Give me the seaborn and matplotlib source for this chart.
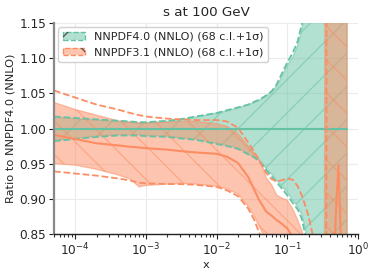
import matplotlib
matplotlib.use("Agg")
import matplotlib.pyplot as plt
import seaborn as sns
from matplotlib.patches import Patch
from matplotlib.ticker import LogLocator, NullFormatter

sns.set_theme(style="ticks")
plt.rcParams['font.family'] = ['DejaVu Sans']

# x grid
xgrid = [5e-5, 1e-4, 2e-4, 4e-4, 6e-4, 8e-4, 1e-3, 2e-3, 3e-3, 5e-3,
         1e-2, 1.4e-2, 2e-2, 2.8e-2, 3.4e-2, 4e-2, 4.5e-2, 5e-2, 6e-2, 7e-2,
         8e-2, 0.1, 0.12, 0.14, 0.16, 0.18, 0.2, 0.23, 0.27, 0.3,
         0.335, 0.345, 0.355, 0.365, 0.45, 0.5, 0.53, 0.56, 0.59, 0.62,
         0.66, 0.7]

# NNPDF4.0 (reference) ratio
nn40_cv = [1.0] * len(xgrid)
nn40_up68 = [1.016, 1.014, 1.012, 1.010, 1.009, 1.008, 1.008, 1.010, 1.012, 1.016,
             1.022, 1.025, 1.029, 1.034, 1.037, 1.040, 1.043, 1.046, 1.052, 1.060,
             1.070, 1.090, 1.102, 1.118, 1.140, 1.170, 1.25, 1.40, 1.60, 1.60,
             1.60, 1.60, 1.60, 1.60, 1.60, 1.60, 1.60, 1.60, 1.60, 1.60,
             1.60, 1.60]
nn40_dn68 = [0.983, 0.986, 0.989, 0.991, 0.991, 0.991, 0.990, 0.989, 0.987, 0.985,
             0.979, 0.976, 0.972, 0.964, 0.960, 0.955, 0.950, 0.943, 0.935, 0.927,
             0.920, 0.909, 0.898, 0.889, 0.878, 0.856, 0.82, 0.75, 0.60, 0.60,
             0.60, 0.60, 0.60, 0.60, 0.60, 0.60, 0.60, 0.60, 0.60, 0.60,
             0.60, 0.60]
nn40_upstd = [1.017, 1.015, 1.013, 1.011, 1.010, 1.009, 1.009, 1.011, 1.013, 1.017,
              1.022, 1.026, 1.030, 1.034, 1.038, 1.041, 1.044, 1.047, 1.053, 1.062,
              1.074, 1.094, 1.108, 1.124, 1.148, 1.18, 1.26, 1.42, 1.62, 1.62,
              1.62, 1.62, 1.62, 1.62, 1.62, 1.62, 1.62, 1.62, 1.62, 1.62,
              1.62, 1.62]
nn40_dnstd = [0.982, 0.985, 0.988, 0.990, 0.990, 0.990, 0.989, 0.988, 0.986, 0.984,
              0.978, 0.975, 0.971, 0.963, 0.959, 0.953, 0.948, 0.941, 0.932, 0.924,
              0.917, 0.905, 0.894, 0.885, 0.872, 0.848, 0.81, 0.74, 0.58, 0.58,
              0.58, 0.58, 0.58, 0.58, 0.58, 0.58, 0.58, 0.58, 0.58, 0.58,
              0.58, 0.58]

# NNPDF3.1 ratio to NNPDF4.0
nn31_cv = [0.991, 0.985, 0.979, 0.976, 0.974, 0.973, 0.972, 0.970, 0.968, 0.966,
           0.964, 0.960, 0.951, 0.931, 0.913, 0.898, 0.890, 0.882, 0.876, 0.870,
           0.866, 0.858, 0.845, 0.830, 0.810, 0.790, 0.780, 0.760, 0.740, 0.720,
           0.700, 0.700, 0.720, 0.750, 0.800, 0.905, 0.948, 0.875, 0.780, 0.700,
           0.650, 0.600]
nn31_up68 = [1.037, 1.027, 1.019, 1.011, 1.009, 1.008, 1.008, 1.009, 1.010, 1.010,
             1.007, 1.003, 0.993, 0.975, 0.965, 0.955, 0.945, 0.930, 0.920, 0.906,
             0.902, 0.898, 0.885, 0.870, 0.855, 0.840, 0.820, 0.790, 0.760, 0.720,
             0.700, 1.70, 1.70, 1.70, 1.70, 1.70, 1.70, 1.70, 1.70, 1.70,
             1.70, 1.70]
nn31_dn68 = [0.950, 0.948, 0.942, 0.934, 0.928, 0.917, 0.919, 0.921, 0.922, 0.921,
             0.918, 0.914, 0.907, 0.889, 0.875, 0.861, 0.850, 0.840, 0.820, 0.800,
             0.780, 0.760, 0.740, 0.720, 0.700, 0.680, 0.660, 0.640, 0.620, 0.600,
             0.580, 0.300, 0.300, 0.300, 0.300, 0.300, 0.300, 0.300, 0.300, 0.300,
             0.300, 0.300]
nn31_upstd = [1.054, 1.044, 1.034, 1.027, 1.022, 1.019, 1.017, 1.014, 1.013, 1.012,
              1.012, 1.010, 1.001, 0.980, 0.967, 0.955, 0.945, 0.937, 0.928, 0.925,
              0.926, 0.929, 0.927, 0.918, 0.905, 0.890, 0.875, 0.848, 0.800, 0.750,
              0.720, 0.700, 0.700, 1.80, 1.80, 1.80, 1.80, 1.80, 1.80, 1.80,
              1.80, 1.80]
nn31_dnstd = [0.939, 0.936, 0.933, 0.929, 0.926, 0.923, 0.922, 0.921, 0.921, 0.920,
              0.917, 0.912, 0.904, 0.886, 0.870, 0.852, 0.840, 0.830, 0.810, 0.790,
              0.770, 0.750, 0.730, 0.710, 0.690, 0.670, 0.650, 0.630, 0.610, 0.590,
              0.570, 0.550, 0.550, 0.200, 0.200, 0.200, 0.200, 0.200, 0.200, 0.200,
              0.200, 0.200]

pdfs = [
    ("NNPDF4.0 (NNLO)", "#66c2a5", "/", nn40_cv, nn40_up68, nn40_dn68, nn40_upstd, nn40_dnstd),
    ("NNPDF3.1 (NNLO)", "#fc8d62", "\\", nn31_cv, nn31_up68, nn31_dn68, nn31_upstd, nn31_dnstd),
]

fig = plt.figure(figsize=(3.74, 2.75), dpi=100)
ax = fig.add_axes([54 / 374, 1 - 234 / 275, 304 / 374, 211 / 275])

handles = []
labels = []
for label, color, hatch, cv, up68, dn68, upstd, dnstd in pdfs:
    sns.lineplot(x=xgrid, y=cv, ax=ax, color=color, lw=1.5, sort=False, estimator=None)
    ax.fill_between(xgrid, dn68, up68, color=color, alpha=0.5, zorder=1, lw=0)
    ax.fill_between(xgrid, dn68, up68, facecolor="none", alpha=0.5, edgecolor=color,
                    hatch=hatch, zorder=1, lw=1.0)
    sns.lineplot(x=xgrid, y=upstd, ax=ax, color=color, lw=1.3, linestyle="--", sort=False, estimator=None)
    sns.lineplot(x=xgrid, y=dnstd, ax=ax, color=color, lw=1.3, linestyle="--", sort=False, estimator=None)
    h = (Patch(facecolor=color, alpha=0.5, edgecolor="none"),
         Patch(facecolor="none", edgecolor=color, linestyle="--", lw=1.0),
         Patch(facecolor="none", edgecolor="0.35", hatch=hatch, lw=0))
    handles.append(h)
    labels.append(f"{label} (68 c.l.+1σ)")

ax.set_xscale("log")
ax.set_xlim(5e-5, 1.0)
ax.set_ylim(0.85, 1.15)
ax.set_yticks([0.85, 0.90, 0.95, 1.00, 1.05, 1.10, 1.15])
ax.xaxis.set_major_locator(LogLocator(base=10, numticks=10))
ax.xaxis.set_minor_locator(LogLocator(base=10, subs=(2, 3, 4, 5, 6, 7, 8, 9), numticks=50))
ax.xaxis.set_minor_formatter(NullFormatter())
ax.grid(True, which="major", color="#ebebeb", lw=0.8)
ax.set_axisbelow(True)
sns.despine(ax=ax)
ax.spines["left"].set_color("#888888")
ax.spines["left"].set_linewidth(1.6)
ax.spines["bottom"].set_color("#222222")
ax.spines["bottom"].set_linewidth(1.0)
ax.tick_params(axis="both", which="major", labelsize=8.7, length=3.5, width=0.8, pad=2, color="#222222")
ax.tick_params(axis="x", which="minor", bottom=True, length=2.5, width=0.8, color="#333333")

ax.set_xlabel("x", fontsize=8.2, labelpad=1)
ax.set_ylabel("Ratio to NNPDF4.0 (NNLO)", fontsize=8.2, labelpad=3)
ax.set_title("s at 100 GeV", fontsize=9.7, pad=5)

ax.legend(handles, labels, loc="upper left", fontsize=8, frameon=True,
          handlelength=2.0, borderaxespad=0.4, framealpha=0.9, edgecolor="#cccccc")

fig.savefig("out.png", dpi=100)
